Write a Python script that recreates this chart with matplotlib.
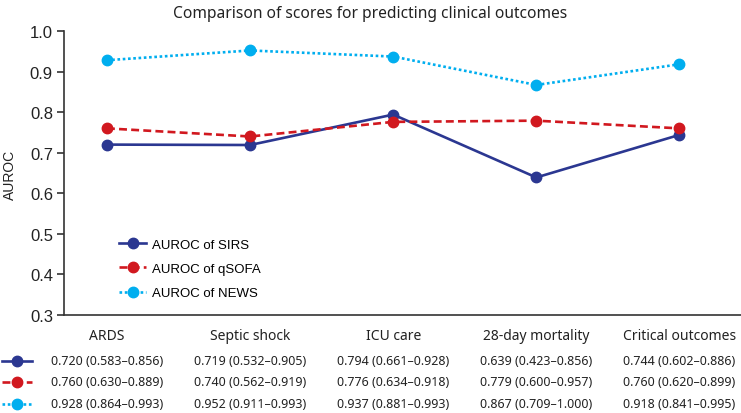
import matplotlib
matplotlib.use("Agg")
import matplotlib.pyplot as plt
from matplotlib.lines import Line2D
import matplotlib.transforms as mtrans

categories = ["ARDS", "Septic shock", "ICU care", "28-day mortality", "Critical outcomes"]
series_names = ["AUROC of SIRS", "AUROC of qSOFA", "AUROC of NEWS"]
sirs = [0.720, 0.719, 0.794, 0.639, 0.744]
sirs_lo = [0.583, 0.532, 0.661, 0.423, 0.602]
sirs_hi = [0.856, 0.905, 0.928, 0.856, 0.886]
qsofa = [0.760, 0.740, 0.776, 0.779, 0.760]
qsofa_lo = [0.630, 0.562, 0.634, 0.600, 0.620]
qsofa_hi = [0.889, 0.919, 0.918, 0.957, 0.899]
news = [0.928, 0.952, 0.937, 0.867, 0.918]
news_lo = [0.864, 0.911, 0.881, 0.709, 0.841]
news_hi = [0.993, 0.993, 0.993, 1.000, 0.995]
yticks = [0.3, 0.4, 0.5, 0.6, 0.7, 0.8, 0.9, 1.0]

colors = ["#2b3791", "#d1181f", "#00aeef"]
styles = ["-", (0, (3, 1.6)), (0, (1, 1))]

fig = plt.figure(figsize=(7.41, 4.14), dpi=100)
ax = fig.add_axes([64/741, 1-316/414, 1-64/741, (316-32)/414])

x = list(range(len(categories)))
all_vals = [sirs, qsofa, news]
all_lo = [sirs_lo, qsofa_lo, news_lo]
all_hi = [sirs_hi, qsofa_hi, news_hi]
for vals, name, c, ls in zip(all_vals, series_names, colors, styles):
    ax.plot(x, vals, color=c, linestyle=ls, linewidth=1.9, marker="o",
            markersize=7.5, label=name)

ax.set_xlim(-0.30, 4.43)
ax.set_ylim(0.3, 1.0)
ax.set_yticks(yticks)
ax.set_yticklabels([f"{t:.1f}" for t in yticks], fontsize=12, family="Liberation Sans", color="#222222")
ax.set_xticks([])
ax.spines["top"].set_visible(False)
ax.spines["right"].set_visible(False)
for s in ["left", "bottom"]:
    ax.spines[s].set_color("#333333")
    ax.spines[s].set_linewidth(1.2)
ax.tick_params(axis="y", direction="out", length=5, width=1.2, color="#333333", pad=3)

fig.text(10/741, 1-175/414, "AUROC", rotation=90, ha="center", va="center",
         fontsize=10, family="Liberation Sans", color="#222222")

leg = ax.legend(loc="upper left", bbox_to_anchor=(0.074, 0.287), frameon=False,
                prop={"family": "Liberation Sans", "size": 9.5}, handlelength=2.0,
                handletextpad=0.5, labelspacing=0.9, borderaxespad=0)

fig.text(0.5, 1-14/414, "Comparison of scores for predicting clinical outcomes",
         ha="center", va="center", fontsize=11.2, family="Noto Sans", color="#222222")

trans = mtrans.blended_transform_factory(ax.transData, fig.transFigure)
for xi, cat in zip(x, categories):
    fig.text(xi, 1-337/414, cat, transform=trans, ha="center", va="center",
             fontsize=10, family="Noto Sans", color="#222222")

row_y = [362, 383, 405]
for vals, lo, hi, c, ls, ry in zip(all_vals, all_lo, all_hi, colors, styles, row_y):
    fy = 1 - ry/414
    fig.add_artist(Line2D([2/741, 32/741], [fy, fy], transform=fig.transFigure,
                          color=c, linestyle=ls, linewidth=1.9))
    fig.add_artist(Line2D([17/741], [fy], transform=fig.transFigure,
                          color=c, marker="o", markersize=7.5, linestyle="none"))
    for xi, v, l, h in zip(x, vals, lo, hi):
        fig.text(xi, fy, f"{v:.3f} ({l:.3f}\u2013{h:.3f})", transform=trans,
                 ha="center", va="center", fontsize=9, family="Noto Sans", color="#222222")

fig.savefig("out.png", dpi=100)
